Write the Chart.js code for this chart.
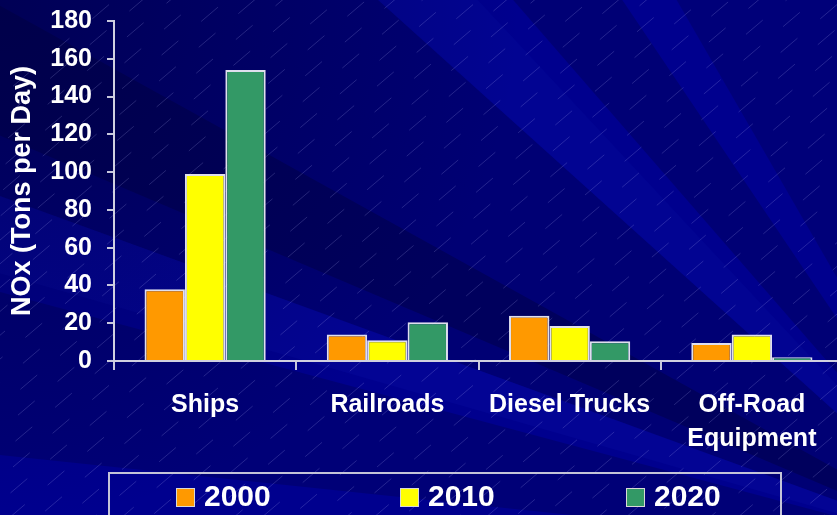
<!DOCTYPE html>
<html>
<head>
<meta charset="utf-8">
<script src="https://cdn.jsdelivr.net/npm/chart.js@4/dist/chart.umd.min.js"></script>
<style>
  html, body { margin: 0; padding: 0; overflow: hidden; background: #000088; width: 837px; height: 515px; }
  #wrap { position: relative; width: 845px; height: 515px; }
  #c { position: absolute; left: 0; top: 0; }
  #legend { position: absolute; left: 108px; top: 472px; width: 674px; height: 60px;
            border: 2px solid #c4c4d8; box-sizing: border-box; }
  .item { position: absolute; font: bold 30px "Liberation Sans", Arial, sans-serif; color: #fff; line-height: 34px; }
  .sw { position: absolute; width: 19px; height: 19px; box-sizing: border-box; border: 1px solid #d8d8d8; }
</style>
</head>
<body>
<div id="wrap">
  <canvas id="c" width="845" height="515"></canvas>
  <div id="legend"></div>
</div>
<script>
const categories = ["Ships", "Railroads", "Diesel Trucks", ["Off-Road", "Equipment"]];
const seriesNames = ["2000", "2010", "2020"];
const values2000 = [38, 14, 24, 9.5];
const values2010 = [99, 11, 18.5, 14];
const values2020 = [154, 20.5, 10.5, 2];
const seriesColors = ["#FF9900", "#FFFF00", "#339966"];
const yTicks = [0, 20, 40, 60, 80, 100, 120, 140, 160, 180];

const FONT = '"Liberation Sans", Arial, sans-serif';

const bgPlugin = {
  id: 'bg',
  beforeDraw(chart) {
    const ctx = chart.ctx, W = chart.width, H = chart.height;
    ctx.save();
    ctx.fillStyle = '#00008e';
    ctx.fillRect(0, 0, W, H);
    const ox = 1000, oy = 560;
    const rays = [
      [200, 215, 'rgba(0,0,40,0.25)'],
      [186, 195, 'rgba(0,0,50,0.25)'],
      [196, 200, 'rgba(20,30,190,0.15)'],
      [203, 209, 'rgba(0,0,40,0.30)'],
      [215, 222, 'rgba(0,0,40,0.25)'],
      [222, 227, 'rgba(20,30,180,0.12)'],
      [229, 236, 'rgba(0,0,45,0.25)'],
      [170, 176, 'rgba(0,0,40,0.22)'],
      [177, 181, 'rgba(30,50,210,0.15)'],
      [240, 255, 'rgba(0,0,50,0.22)']
    ];
    for (const [a1, a2, col] of rays) {
      const r = 2000;
      ctx.beginPath();
      ctx.moveTo(ox, oy);
      ctx.lineTo(ox + r * Math.cos(a1 * Math.PI / 180), oy + r * Math.sin(a1 * Math.PI / 180));
      ctx.lineTo(ox + r * Math.cos(a2 * Math.PI / 180), oy + r * Math.sin(a2 * Math.PI / 180));
      ctx.closePath();
      ctx.fillStyle = col;
      ctx.fill();
    }
    const g = ctx.createRadialGradient(0, 0, 0, 0, 0, 520);
    g.addColorStop(0, 'rgba(0,0,55,0.5)');
    g.addColorStop(1, 'rgba(0,0,55,0)');
    ctx.fillStyle = g;
    ctx.fillRect(0, 0, W, H);
    ctx.strokeStyle = 'rgba(190,190,255,0.28)';
    ctx.lineWidth = 0.7;
    ctx.setLineDash([22, 30]);
    const dy = -0.85;
    for (let k = -H; k < W + H; k += 28) {
      ctx.beginPath();
      const x0 = k, y0 = H + 20;
      ctx.lineDashOffset = (k * 7) % 52;
      ctx.moveTo(x0, y0);
      ctx.lineTo(x0 + 800, y0 + dy * 800);
      ctx.stroke();
    }
    ctx.setLineDash([]);
    ctx.restore();
  }
};

const datasets = [values2000, values2010, values2020].map((vals, i) => ({
  label: seriesNames[i],
  data: vals,
  backgroundColor: seriesColors[i],
  borderColor: 'rgba(235,235,245,0.95)',
  borderWidth: 2,
  barPercentage: 1.0,
  categoryPercentage: 0.665
}));

new Chart(document.getElementById('c'), {
  type: 'bar',
  data: { labels: categories, datasets },
  plugins: [bgPlugin],
  options: {
    responsive: false,
    animation: false,
    devicePixelRatio: 1,
    layout: { padding: { top: 21, right: 2, left: 0, bottom: 0 } },
    plugins: { legend: { display: false }, tooltip: { enabled: false }, title: { display: false } },
    scales: {
      x: {
        offset: true,
        grid: { display: true, drawOnChartArea: false, drawTicks: true, tickLength: 9, color: '#c8c8dc', offset: true, lineWidth: 2 },
        border: { display: true, color: '#d0d0e0', width: 2 },
        ticks: { color: '#ffffff', font: { family: FONT, size: 25, weight: 'bold', lineHeight: 1.36 }, padding: 18, maxRotation: 0, autoSkip: false },
        afterFit(scale) { scale.height = 154; scale.paddingLeft = 0; scale.paddingRight = 0; }
      },
      y: {
        min: 0, max: 180,
        afterBuildTicks(scale) { scale.ticks = yTicks.map(v => ({ value: v })); },
        grid: { display: true, drawOnChartArea: false, drawTicks: true, tickLength: 7, color: '#c8c8dc', lineWidth: 2 },
        border: { display: true, color: '#d0d0e0', width: 2 },
        ticks: { color: '#ffffff', font: { family: FONT, size: 25, weight: 'bold' }, padding: 15 },
        title: { display: true, text: 'NOx (Tons per Day)', color: '#ffffff', font: { family: FONT, size: 27, weight: 'bold' }, padding: { top: 6, bottom: 0 } },
        afterFit(scale) { scale.width = 114; scale.paddingTop = 0; scale.paddingBottom = 0; }
      }
    }
  }
});

const leg = document.getElementById('legend');
const itemX = [66, 290, 516];
seriesNames.forEach((name, i) => {
  const sw = document.createElement('div');
  sw.className = 'sw';
  sw.style.left = itemX[i] + 'px';
  sw.style.top = '14px';
  sw.style.background = seriesColors[i];
  leg.appendChild(sw);
  const t = document.createElement('div');
  t.className = 'item';
  t.style.left = (itemX[i] + 28) + 'px';
  t.style.top = '5px';
  t.textContent = name;
  leg.appendChild(t);
});
</script>
</body>
</html>
